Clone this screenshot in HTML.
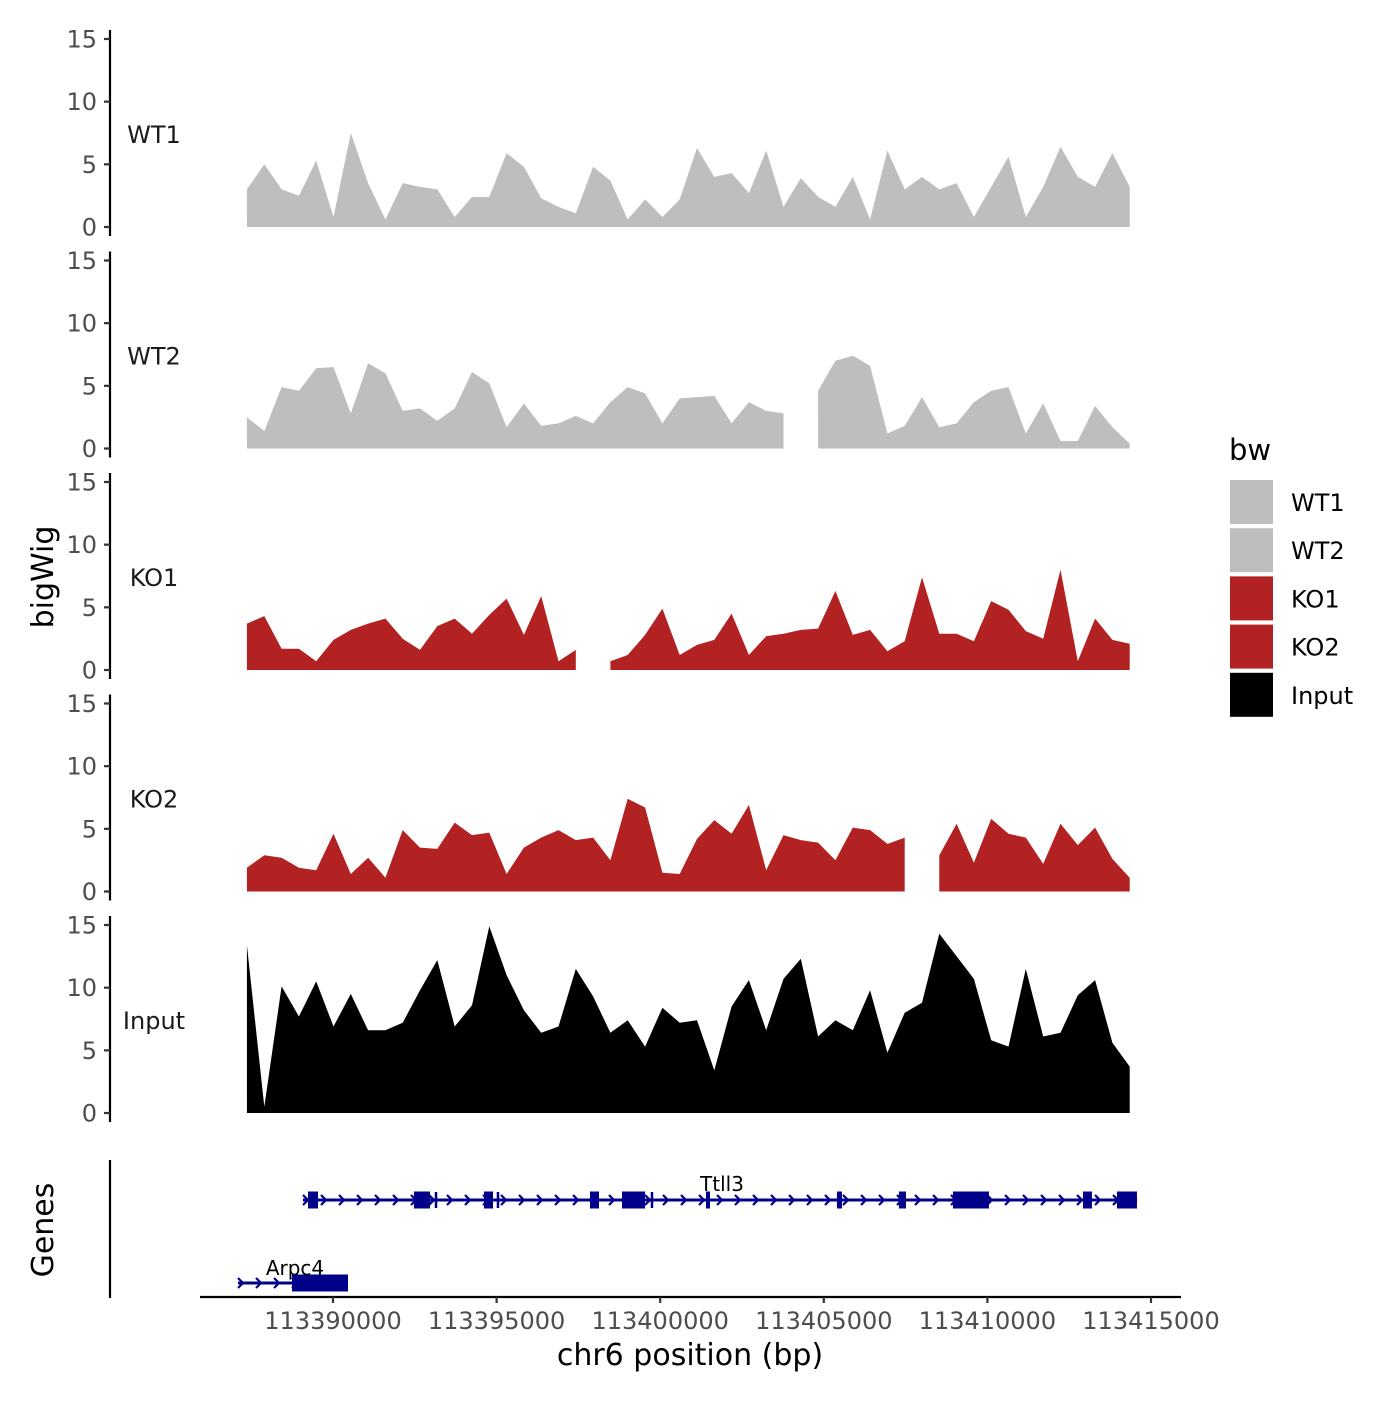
<!DOCTYPE html>
<html><head><meta charset="utf-8"><style>
html,body{margin:0;padding:0;background:#fff;}
svg text{font-family:"DejaVu Sans","Liberation Sans",sans-serif;}
</style></head><body>
<svg id="chart" xmlns="http://www.w3.org/2000/svg" width="1400" height="1400" viewBox="0 0 1400 1400">
<rect width="1400" height="1400" fill="#fff"/>
</svg>
<script>
const samples = ["WT1","WT2","KO1","KO2","Input"];
const binStart = 113387370;
const binStep = 529;
const wt1 = [3,5,3,2.5,5.3,0.8,7.5,3.5,0.6,3.5,3.2,3,0.8,2.4,2.4,5.9,4.8,2.3,1.6,1.1,4.8,3.7,0.6,2.2,0.8,2.2,6.3,4,4.3,2.7,6.1,1.6,3.9,2.4,1.6,4,0.6,6.1,3,4,3,3.5,0.8,3.2,5.6,0.8,3.2,6.4,4,3.2,5.9,3.2];
const wt2 = [2.5,1.4,4.9,4.6,6.4,6.5,2.8,6.8,6,3,3.2,2.2,3.2,6.1,5.2,1.7,3.6,1.8,2,2.6,2,3.7,4.9,4.4,2,4,4.1,4.2,2,3.7,3,2.8,null,4.6,7,7.4,6.6,1.2,1.8,4.1,1.7,2,3.7,4.6,4.9,1.2,3.6,0.6,0.6,3.4,1.7,0.4];
const ko1 = [3.7,4.3,1.7,1.7,0.7,2.4,3.2,3.7,4.1,2.5,1.6,3.5,4.1,2.9,4.4,5.7,2.8,5.9,0.7,1.6,null,0.7,1.2,2.8,4.9,1.2,2,2.4,4.5,1.2,2.7,2.9,3.2,3.3,6.3,2.8,3.2,1.5,2.3,7.4,2.9,2.9,2.3,5.5,4.8,3.1,2.5,8,0.7,4.1,2.4,2.1];
const ko2 = [1.9,2.9,2.7,1.9,1.7,4.6,1.4,2.7,1.1,4.9,3.5,3.4,5.5,4.5,4.7,1.4,3.5,4.3,4.9,4.1,4.3,2.5,7.4,6.7,1.5,1.4,4.2,5.7,4.6,6.9,1.7,4.5,4.1,3.9,2.5,5.1,4.9,3.8,4.3,null,2.9,5.4,2.3,5.8,4.6,4.3,2.2,5.4,3.7,5.1,2.6,1.1];
const input = [13.4,0.5,10.1,7.7,10.5,6.9,9.5,6.6,6.6,7.2,9.8,12.2,6.9,8.6,14.9,11,8.2,6.4,6.9,11.5,9.3,6.4,7.4,5.3,8.4,7.2,7.4,3.4,8.5,10.6,6.6,10.7,12.3,6.1,7.4,6.6,9.8,4.8,8,8.8,14.3,12.5,10.7,5.8,5.3,11.5,6.1,6.4,9.4,10.6,5.6,3.7];
const yTicks = [0,5,10,15];
const xTicks = [113390000,113395000,113400000,113405000,113410000,113415000];
const ttll3Range = [113389083,113414571];
const ttll3Exons = [[113389236,113389542],[113392475,113392964],[113394615,113394890],[113397854,113398129],[113398832,113399535],[113401399,113401521],[113405402,113405555],[113407297,113407511],[113408947,113410047],[113412920,113413195],[113413959,113414571]];
const ttll3Thin = [113393148,113395042,113399749];
const arpc4Range = [113387097,113390458];
const arpc4Exons = [[113388747,113390458]];

const NS="http://www.w3.org/2000/svg";
const svg=document.getElementById('chart');
function el(tag,attrs,parent){const e=document.createElementNS(NS,tag);for(const k in attrs)e.setAttribute(k,attrs[k]);(parent||svg).appendChild(e);return e;}
const xScale = bp => 333 + (bp-113390000)*32.72/1000;
const panelTop = k => 39 + 221.5*k;
const yScale = (k,v) => panelTop(k) + 188 - v*188/15;
const colors = ["#bebebe","#bebebe","#b22222","#b22222","#000000"];
const series = [wt1,wt2,ko1,ko2,input];

series.forEach((vals,k)=>{
  const g=el('g',{});
  
  
  const ax=el('line',{x1:110,x2:110,y1:panelTop(k)-9,y2:panelTop(k)+197,stroke:'#000','stroke-width':2.2},g);
  
  
  yTicks.forEach(t=>{
    const y=yScale(k,t);
    el('line',{x1:104,x2:110,y1:y,y2:y,stroke:'#333','stroke-width':2.2},g);
    const tx=el('text',{x:97,y:y+8.5,'text-anchor':'end','font-size':24,fill:'#4d4d4d'},g);
    tx.textContent=t;
    
    
  });
  const lab=el('text',{x:154,y:panelTop(k)+104,'text-anchor':'middle','font-size':24,fill:'#1a1a1a'},g);
  lab.textContent=samples[k];
  
  
  let seg=[];
  const segs=[];
  vals.forEach((v,i)=>{
    if(v===null){if(seg.length)segs.push(seg);seg=[];}
    else seg.push([xScale(binStart+i*binStep),yScale(k,v)]);
  });
  if(seg.length)segs.push(seg);
  const base=yScale(k,0);
  segs.forEach(s=>{
    let d='M'+s[0][0]+','+base;
    s.forEach(p=>{d+=' L'+p[0].toFixed(1)+','+p[1].toFixed(1);});
    d+=' L'+s[s.length-1][0]+','+base+' Z';
    const p=el('path',{d:d,fill:colors[k]},g);
    
    
  });
});

const yt=el('text',{x:0,y:0,'font-size':30,'text-anchor':'middle',transform:'translate(53,577) rotate(-90)',fill:'#000'});
yt.textContent='bigWig';



const gax=el('line',{x1:110,x2:110,y1:1160,y2:1298,stroke:'#000','stroke-width':2.2});


const gt=el('text',{x:0,y:0,'font-size':30,'text-anchor':'middle',transform:'translate(53,1230) rotate(-90)',fill:'#000'});
gt.textContent='Genes';



function drawGene(name,range,exons,thin,y,labelX,labelY){
  const g=el('g',{});
  
  
  const x1=xScale(range[0]),x2=xScale(range[1]);
  el('line',{x1:x1,x2:x2,y1:y,y2:y,stroke:'#00008b','stroke-width':3},g);
  for(let x=x1;x<x2-4;x+=18){
    el('path',{d:`M${x} ${y-5} L${x+5} ${y} L${x} ${y+5}`,stroke:'#00008b','stroke-width':2.2,fill:'none'},g);
  }
  exons.forEach(e=>{
    const r=el('rect',{x:xScale(e[0]),y:y-8.5,width:xScale(e[1])-xScale(e[0]),height:17,fill:'#00008b'},g);
    
    
  });
  thin.forEach(t=>{
    el('line',{x1:xScale(t),x2:xScale(t),y1:y-8,y2:y+8,stroke:'#00008b','stroke-width':2.5},g);
  });
  const t=el('text',{x:labelX,y:labelY,'text-anchor':'middle','font-size':20,fill:'#000'},g);
  t.textContent=name;
  
  
}
drawGene('Ttll3',ttll3Range,ttll3Exons,ttll3Thin,1200,722,1191);
drawGene('Arpc4',arpc4Range,arpc4Exons,[],1283,295,1275);

const xa=el('line',{x1:200,x2:1181,y1:1297,y2:1297,stroke:'#000','stroke-width':2.2});


xTicks.forEach(t=>{
  const x=xScale(t);
  el('line',{x1:x,x2:x,y1:1297,y2:1303,stroke:'#333','stroke-width':2.2});
  const tx=el('text',{x:x,y:1329,'text-anchor':'middle','font-size':24,fill:'#4d4d4d'});
  tx.textContent=t;
  
  
});
const xt=el('text',{x:690,y:1365,'text-anchor':'middle','font-size':30,fill:'#000'});
xt.textContent='chr6 position (bp)';



const lg=el('g',{});


const lt=el('text',{x:1229,y:460,'font-size':29,fill:'#000'},lg);
lt.textContent='bw';


samples.forEach((s,i)=>{
  const y=480+48.2*i;
  const r=el('rect',{x:1230,y:y,width:43,height:44,fill:colors[i]},lg);
  
  
  const t=el('text',{x:1291,y:y+31,'font-size':24,fill:'#000'},lg);
  t.textContent=s;
  
  
});
</script>
</body></html>
